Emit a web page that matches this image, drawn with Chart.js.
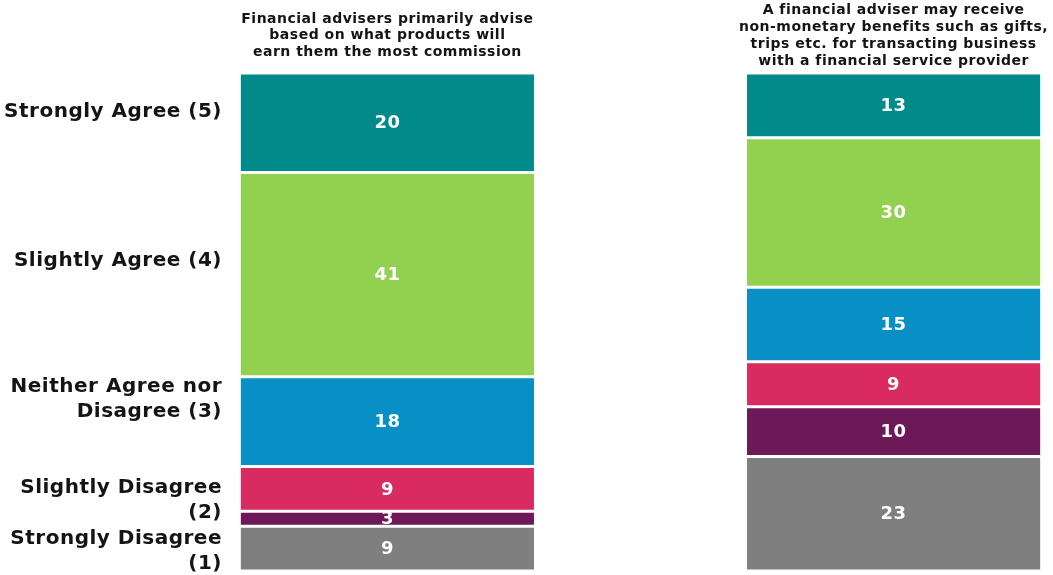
<!DOCTYPE html>
<html>
<head>
<meta charset="utf-8">
<script src="https://cdn.jsdelivr.net/npm/chart.js@4/dist/chart.umd.min.js"></script>
<style>
  html, body { margin: 0; padding: 0; background: #fff; }
  #wrap { width: 1053px; height: 575px; position: relative; }
</style>
</head>
<body>
<div id="wrap"><canvas id="chart"></canvas></div>
<script>
// ===== Datos =====
const statements = [
  ['Financial advisers primarily advise', 'based on what products will', 'earn them the most commission'],
  ['A financial adviser may receive', 'non-monetary benefits such as gifts,', 'trips etc. for transacting business', 'with a financial service provider']
];
const barPos = [0, 1];

// segmentos, de abajo hacia arriba (% por afirmación)
const grey   = [9, 23];
const purple = [3, 10];
const pink   = [9, 9];
const blue   = [18, 15];
const green  = [41, 30];
const teal   = [20, 13];

// etiquetas de la escala a la izquierda y su altura en % del eje
const scaleLabels = [
  ['Strongly Agree (5)'],
  ['Slightly Agree (4)'],
  ['Neither Agree nor', 'Disagree (3)'],
  ['Slightly Disagree', '(2)'],
  ['Strongly Disagree', '(1)']
];
const scaleLabelAt = [92.2, 62.2, 34.4, 14.2, 4.0];

// ===== Estilos =====
const FONT = "'DejaVu Sans', Verdana, sans-serif";
const INK = '#141414';
const seg = (data, color) => ({
  data, backgroundColor: color,
  borderColor: '#ffffff', borderWidth: 1.5, borderSkipped: false
});

// texto un poco más abierto (el lienzo pierde el estado al redimensionar)
const spacing = {
  id: 'spacing',
  beforeLayout(chart) { chart.ctx.letterSpacing = '0.5px'; },
  beforeDraw(chart) { chart.ctx.letterSpacing = '0.5px'; }
};

// números blancos centrados en cada segmento
const valueLabels = {
  id: 'valueLabels',
  afterDatasetsDraw(chart) {
    const ctx = chart.ctx;
    ctx.save();
    ctx.fillStyle = '#ffffff';
    ctx.font = `bold 18px ${FONT}`;
    ctx.textAlign = 'center';
    ctx.textBaseline = 'middle';
    chart.data.datasets.forEach((ds, i) => {
      chart.getDatasetMeta(i).data.forEach((bar, j) => {
        ctx.fillText(String(ds.data[j]), bar.x, (bar.y + bar.base) / 2 + 1);
      });
    });
    ctx.restore();
  }
};

new Chart(document.getElementById('chart'), {
  type: 'bar',
  data: {
    labels: barPos,
    datasets: [
      seg(grey,   '#7f7f7f'),
      seg(purple, '#6d1857'),
      seg(pink,   '#d92a61'),
      seg(blue,   '#078fc6'),
      seg(green,  '#92d050'),
      seg(teal,   '#018a8a')
    ]
  },
  options: {
    responsive: true,
    maintainAspectRatio: false,
    animation: false,
    layout: { padding: { top: 0, right: 4, bottom: 4, left: 0 } },
    categoryPercentage: 1,
    barPercentage: 0.585,
    plugins: { legend: { display: false }, tooltip: { enabled: false } },
    scales: {
      x: {
        type: 'linear',
        position: 'top',
        stacked: true,
        offset: false,
        min: -0.307, max: 1.307,
        grid: { display: false, drawTicks: false },
        border: { display: false },
        afterBuildTicks: axis => { axis.ticks = barPos.map(v => ({ value: v })); },
        afterFit: axis => { axis.height = 73; axis.paddingLeft = 0; axis.paddingRight = 0; },
        ticks: {
          autoSkip: false, maxRotation: 0, minRotation: 0,
          crossAlign: 'center', padding: 12,
          color: INK, font: { family: FONT, size: 14, weight: 'bold', lineHeight: 1.2 },
          callback: (v, i) => statements[i]
        }
      },
      y: {
        stacked: true,
        min: 0, max: 100,
        grid: { display: false, drawTicks: false },
        border: { display: false },
        afterBuildTicks: axis => { axis.ticks = scaleLabelAt.map(v => ({ value: v })); },
        afterFit: axis => { axis.width = 232; axis.paddingTop = 0; axis.paddingBottom = 0; },
        ticks: {
          autoSkip: false, padding: 10,
          color: INK, font: { family: FONT, size: 20, weight: 'bold', lineHeight: 1.25 },
          callback: (v, i) => scaleLabels[i]
        }
      }
    }
  },
  plugins: [spacing, valueLabels]
});
</script>
</body>
</html>
